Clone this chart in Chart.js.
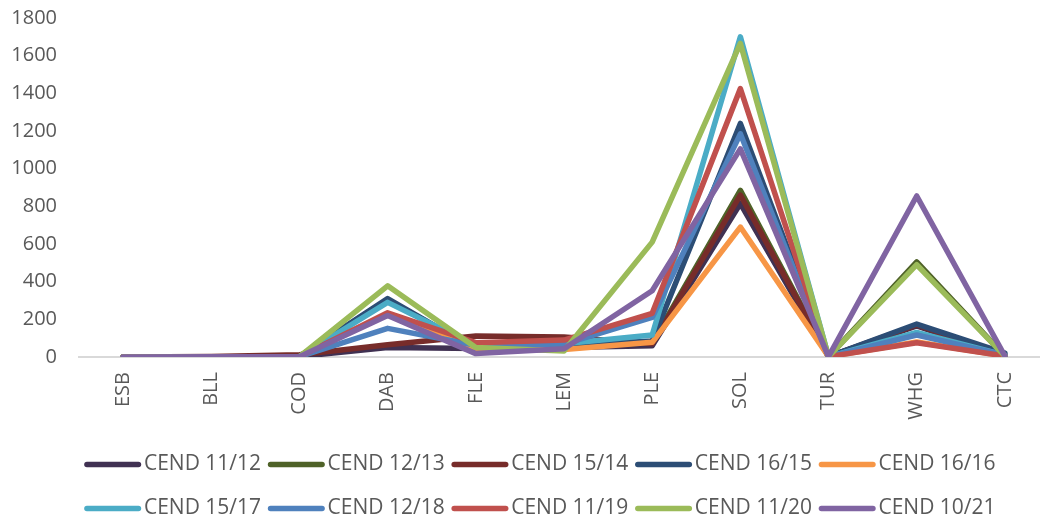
<!DOCTYPE html>
<html>
<head>
<meta charset="utf-8">
<script src="https://cdn.jsdelivr.net/npm/chart.js@4.4.1/dist/chart.umd.min.js"></script>
<style>
    html, body { margin: 0; padding: 0; background: #fff; overflow: hidden; }
    canvas { display: block; }
</style>
</head>
<body>
<canvas id="speciesChart" width="1080" height="522"></canvas>
<script>
// --- Data ---
const species = ['ESB', 'BLL', 'COD', 'DAB', 'FLE', 'LEM', 'PLE', 'SOL', 'TUR', 'WHG', 'CTC'];
const yTicks = [0, 200, 400, 600, 800, 1000, 1200, 1400, 1600, 1800];

const cend1112 = [0, 1, 3, 50, 45, 50, 60, 815, 2, 165, 5];
const cend1213 = [0, 1, 3, 305, 40, 60, 75, 885, 2, 505, 5];
const cend1514 = [0, 2, 12, 65, 112, 106, 70, 860, 2, 170, 10];
const cend1615 = [0, 1, 3, 310, 40, 60, 85, 1240, 2, 175, 20];
const cend1616 = [0, 1, 2, 230, 40, 40, 78, 690, 2, 80, 5];
const cend1517 = [0, 1, 2, 290, 60, 70, 117, 1700, 2, 130, 10];
const cend1218 = [0, 1, 2, 152, 62, 69, 210, 1185, 2, 117, 10];
const cend1119 = [0, 1, 2, 235, 76, 90, 232, 1425, 2, 76, 5];
const cend1120 = [0, 1, 2, 378, 50, 32, 610, 1665, 2, 490, 5];
const cend1021 = [0, 1, 2, 220, 18, 44, 352, 1105, 2, 855, 5];

const seriesNames = ['CEND 11/12', 'CEND 12/13', 'CEND 15/14', 'CEND 16/15', 'CEND 16/16',
    'CEND 15/17', 'CEND 12/18', 'CEND 11/19', 'CEND 11/20', 'CEND 10/21'];
const seriesValues = [cend1112, cend1213, cend1514, cend1615, cend1616,
    cend1517, cend1218, cend1119, cend1120, cend1021];
const seriesColors = ['#403152', '#4F6228', '#772C2A', '#2C4D75', '#F79646',
    '#4BACC6', '#4F81BD', '#C0504D', '#9BBB59', '#8064A2'];

const textColor = '#595959';
const fontFamily = "'Open Sans', 'DejaVu Sans', sans-serif";
const legendLineLength = 54;

// centre the legend under the plot like the original, not under the whole canvas
const legendShift = {
    id: 'legendShift',
    afterLayout(chart) {
        const legend = chart.legend;
        if (!legend) return;
        legend.left = 31;
        legend.right = chart.chartArea.right;
    }
};

// draws the legend line samples where the legend placed each item
const legendLines = {
    id: 'legendLines',
    afterDraw(chart) {
        const legend = chart.legend;
        if (!legend || !legend.legendHitBoxes) return;
        const ctx = chart.ctx;
        legend.legendItems.forEach((item, i) => {
            const box = legend.legendHitBoxes[i];
            const y = box.top + box.height / 2;
            ctx.save();
            ctx.strokeStyle = item.strokeStyle;
            ctx.lineWidth = 5.5;
            ctx.lineCap = 'round';
            ctx.beginPath();
            ctx.moveTo(box.left + 2.5, y);
            ctx.lineTo(box.left + legendLineLength, y);
            ctx.stroke();
            ctx.restore();
        });
    }
};

const datasets = seriesNames.map((name, i) => ({
    label: name,
    data: seriesValues[i],
    borderColor: seriesColors[i],
    backgroundColor: seriesColors[i],
    borderWidth: 5.5,
    borderJoinStyle: 'round',
    borderCapStyle: 'round',
    tension: 0,
    pointRadius: 0,
    pointHoverRadius: 0,
    // later series sit on top, like the original
    order: seriesNames.length - i
}));

new Chart(document.getElementById('speciesChart'), {
    type: 'line',
    data: { labels: species, datasets: datasets },
    plugins: [legendShift, legendLines],
    options: {
        responsive: false,
        animation: false,
        layout: { padding: { top: 18, left: 0, right: 31, bottom: -15 } },
        scales: {
            x: {
                offset: true,
                grid: { display: false, drawTicks: false },
                border: { display: true, color: '#D9D9D9', width: 2 },
                ticks: {
                    color: textColor,
                    font: { family: fontFamily, size: 20 },
                    maxRotation: 90,
                    minRotation: 90,
                    padding: 15,
                    autoSkip: false
                },
                afterFit: (scale) => { scale.height = 82; }
            },
            y: {
                min: 0,
                max: 1800,
                grid: { display: false, drawTicks: false },
                border: { display: false },
                afterBuildTicks: (scale) => { scale.ticks = yTicks.map(v => ({ value: v })); },
                ticks: {
                    color: textColor,
                    font: { family: fontFamily, size: 20 },
                    padding: 22,
                    callback: (value) => String(value)
                },
                afterFit: (scale) => {
                    scale.width = 79;
                    scale.paddingTop = 0;
                    scale.paddingBottom = 0;
                }
            }
        },
        plugins: {
            tooltip: { enabled: false },
            legend: {
                position: 'bottom',
                labels: {
                    color: textColor,
                    font: { family: fontFamily, size: 21 },
                    boxWidth: 49,
                    boxHeight: 37,
                    padding: 7,
                    sort: (a, b) => a.datasetIndex - b.datasetIndex,
                    generateLabels: (chart) => {
                        const items = Chart.defaults.plugins.legend.labels.generateLabels(chart);
                        return items.map(item => Object.assign(item, {
                            fillStyle: 'rgba(0,0,0,0)',
                            lineWidth: 0
                        }));
                    }
                }
            }
        }
    }
});
</script>
</body>
</html>
